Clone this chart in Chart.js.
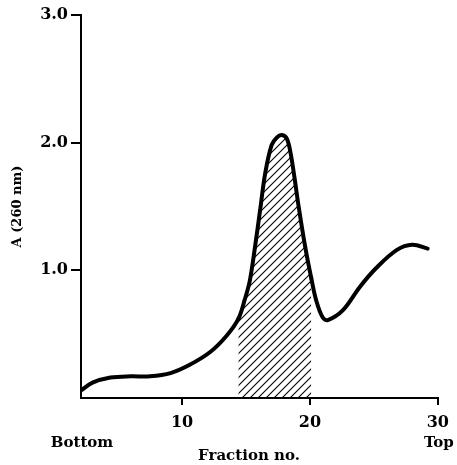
<!DOCTYPE html>
<html>
<head>
<meta charset="utf-8">
<script src="https://cdn.jsdelivr.net/npm/chart.js@4/dist/chart.umd.min.js"></script>
<style>
  html, body { margin: 0; padding: 0; background: #fff; }
  #wrap { width: 457px; height: 465px; }
</style>
</head>
<body>
<div id="wrap"><canvas id="c" width="457" height="465"></canvas></div>
<script>
// Data
const fractions = [2.1, 3.0, 4.4, 6.0, 7.5, 9.1, 10.6, 12.2, 13.5, 14.4, 14.9, 15.3, 15.7, 16.1, 16.5, 17.0, 17.4, 17.8, 18.2, 18.5, 18.8, 19.1, 19.6, 20.1, 20.5, 21.0, 21.4, 22.6, 23.9, 25.2, 26.8, 28.0, 29.2];
const absorbance = [0.06, 0.12, 0.16, 0.17, 0.17, 0.195, 0.26, 0.36, 0.49, 0.62, 0.77, 0.92, 1.18, 1.47, 1.76, 1.98, 2.04, 2.06, 2.03, 1.91, 1.72, 1.51, 1.2, 0.94, 0.76, 0.63, 0.61, 0.69, 0.87, 1.02, 1.16, 1.20, 1.17];
const hatchRange = [14.4, 20.1];
const xTickValues = [10, 20, 30];
const yTickValues = [1, 2, 3];
const xRange = [2.1, 30];
const yRange = [0, 3];
const yTitle = 'A (260 nm)';
const xTitle = 'Fraction no.';
const leftLabel = 'Bottom';
const rightLabel = 'Top';

const points = fractions.map((f, i) => ({ x: f, y: absorbance[i] }));

// hatch pattern
function makeHatch() {
  const c = document.createElement('canvas');
  c.width = 8; c.height = 8;
  const g = c.getContext('2d');
  g.strokeStyle = '#000';
  g.lineWidth = 1.1;
  g.beginPath();
  g.moveTo(-1, 9); g.lineTo(9, -1);
  g.moveTo(-1, 1); g.lineTo(1, -1);
  g.moveTo(7, 9); g.lineTo(9, 7);
  g.stroke();
  return g.createPattern(c, 'repeat');
}
const hatch = makeHatch();

const FONT = '"DejaVu Serif", "Liberation Serif", serif';

const textPlugin = {
  id: 'extraText',
  afterDraw(chart) {
    const ctx = chart.ctx;
    const xs = chart.scales.x;
    ctx.save();
    ctx.fillStyle = '#000';
    ctx.font = 'bold 15px ' + FONT;
    ctx.textAlign = 'center';
    ctx.textBaseline = 'middle';
    ctx.fillText(leftLabel, xs.left + 1, 443);
    ctx.fillText(rightLabel, xs.right + 1, 443);
    ctx.fillText(xTitle, 249, 456);
    ctx.restore();
  }
};

new Chart(document.getElementById('c'), {
  type: 'line',
  data: {
    datasets: [{
      data: points,
      borderColor: '#000',
      borderWidth: 4,
      borderCapStyle: 'round',
      borderJoinStyle: 'round',
      pointRadius: 0,
      tension: 0.35,
      fill: 'origin',
      backgroundColor: 'rgba(0,0,0,0)',
      segment: {
        backgroundColor: ctx => (ctx.p0.parsed.x >= hatchRange[0] - 1e-6 && ctx.p1.parsed.x <= hatchRange[1] + 1e-6) ? hatch : 'rgba(0,0,0,0)'
      }
    }]
  },
  options: {
    responsive: false,
    animation: false,
    devicePixelRatio: 1,
    layout: { padding: { top: 15, right: 19, left: 0, bottom: 0 } },
    plugins: { legend: { display: false }, tooltip: { enabled: false } },
    scales: {
      x: {
        type: 'linear',
        min: xRange[0], max: xRange[1],
        afterBuildTicks: s => { s.ticks = xTickValues.map(v => ({ value: v })); },
        afterFit: s => { s.height = 67; },
        border: { display: true, color: '#000', width: 2 },
        grid: { display: true, drawOnChartArea: false, drawTicks: true, tickLength: 7, color: '#000', lineWidth: 2 },
        ticks: { color: '#000', font: { family: FONT, weight: 'bold', size: 16 }, padding: 8, maxRotation: 0, autoSkip: false }
      },
      y: {
        min: yRange[0], max: yRange[1],
        afterBuildTicks: s => { s.ticks = yTickValues.map(v => ({ value: v })); },
        afterFit: s => { s.width = 81; },
        border: { display: true, color: '#000', width: 2 },
        grid: { display: true, drawOnChartArea: false, drawTicks: true, tickLength: 10, color: '#000', lineWidth: 2 },
        ticks: { color: '#000', font: { family: FONT, weight: 'bold', size: 16 }, padding: 3, callback: v => Number(v).toFixed(1) },
        title: { display: true, text: yTitle, color: '#000', font: { family: FONT, weight: 'bold', size: 13 }, padding: { top: 10, bottom: 0 } }
      }
    }
  },
  plugins: [textPlugin]
});
</script>
</body>
</html>
